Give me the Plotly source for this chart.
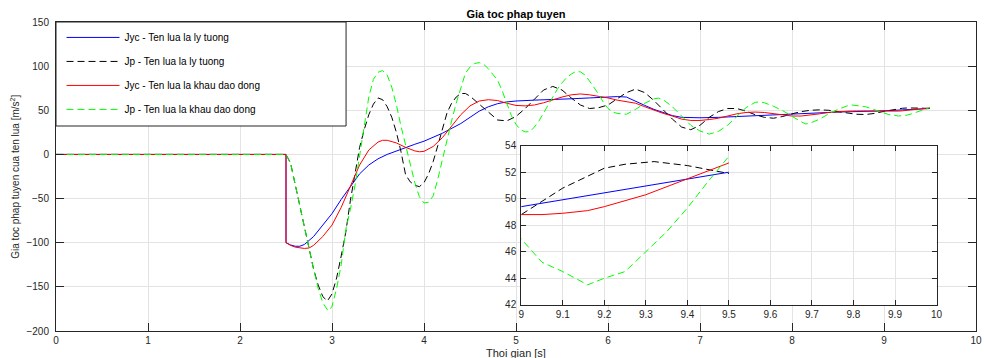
import plotly.graph_objects as go

# ---------------- data ----------------
t_jyc_ideal = [0, 2.5, 2.5, 2.55, 2.6, 2.65, 2.7, 2.8, 2.9, 3.0, 3.1, 3.2, 3.3, 3.4, 3.5, 3.6, 3.7,
               3.8, 3.9, 4.0, 4.2, 4.4, 4.5, 4.6, 4.7, 4.8, 4.9, 5.0, 5.2, 5.4, 5.6, 5.8, 6.0, 6.1,
               6.2, 6.3, 6.4, 6.5, 6.6, 6.7, 6.8, 6.9, 7.0, 7.2, 7.5, 7.8, 8.0, 8.5, 9.0, 9.5]
jyc_ideal = [0, 0, -100, -102.5, -104, -104, -102, -93, -80, -67, -51, -36, -22, -12, -5, 0, 4,
             8, 11.5, 15, 24, 35, 42, 49, 54, 57.5, 59.5, 60.5, 61.5, 62, 63, 64, 65, 65.5,
             65, 60, 55.5, 51, 47.5, 44, 42, 41.5, 41.5, 42, 43.5, 45, 46, 48, 49.4, 52.0]

t_jp_ideal = [0, 2.5, 2.55, 2.6, 2.65, 2.7, 2.75, 2.8, 2.85, 2.9, 2.95, 3.0, 3.05, 3.1, 3.15, 3.2,
              3.25, 3.3, 3.35, 3.4, 3.45, 3.5, 3.55, 3.6, 3.65, 3.7, 3.75, 3.8, 3.85, 3.9, 3.95,
              4.0, 4.05, 4.1, 4.15, 4.2, 4.25, 4.3, 4.35, 4.4, 4.45, 4.5, 4.6, 4.7, 4.8, 4.9,
              5.0, 5.1, 5.2, 5.3, 5.4, 5.5, 5.6, 5.7, 5.8, 5.9, 6.0, 6.1, 6.2, 6.3, 6.4, 6.5,
              6.6, 6.7, 6.8, 6.9, 7.0, 7.1, 7.2, 7.3, 7.4, 7.5, 7.6, 7.7, 7.8, 7.9, 8.0, 8.1,
              8.2, 8.3, 8.4, 8.5, 8.6, 8.7, 8.8, 8.9, 9.0, 9.1, 9.2, 9.25, 9.32, 9.4, 9.5]
jp_ideal = [0, 0, -10, -35, -58, -82, -106, -130, -148, -161, -166, -158, -140, -115, -88, -52,
            -22, 8, 28, 45, 57, 64, 62, 54, 42, 25, 3, -23, -31, -35, -36.5,
            -32, -22, -8, 10, 30, 47, 58, 65, 69, 69, 66, 57, 47, 39, 38,
            43, 52, 63, 73, 77, 73, 64, 56, 52, 53, 56, 63, 70, 74, 70, 61,
            50, 40, 31, 28, 33, 42, 48.5, 52, 52, 49, 45, 42, 41, 43, 46, 48.5,
            50, 50.5, 50, 48.5, 47, 45.5, 45.2, 46.5, 48.8, 50.8, 52.3, 52.6, 52.8, 52.5, 51.9]

t_jyc_osc = [0, 2.5, 2.5, 2.55, 2.6, 2.7, 2.75, 2.8, 2.9, 3.0, 3.1, 3.2, 3.3, 3.4, 3.5, 3.55, 3.6,
             3.7, 3.8, 3.9, 3.95, 4.0, 4.1, 4.2, 4.3, 4.4, 4.5, 4.6, 4.7, 4.8, 4.9, 5.0, 5.1,
             5.2, 5.3, 5.4, 5.5, 5.6, 5.7, 5.8, 5.9, 6.0, 6.1, 6.2, 6.3, 6.4, 6.5, 6.6, 6.7,
             6.8, 6.9, 7.0, 7.1, 7.2, 7.3, 7.4, 7.5, 7.6, 7.7, 7.8, 7.9, 8.0, 8.1, 8.2, 8.3,
             8.4, 8.5, 8.6, 8.7, 8.8, 8.9, 9.0, 9.05, 9.1, 9.16, 9.2, 9.3, 9.4, 9.5]
jyc_osc = [0, 0, -100, -103, -105, -106.5, -106, -103, -93, -80, -60, -35, -12, 5, 14, 16, 16,
           13, 8, 4, 3, 3.5, 9, 19, 32, 45, 55, 60.5, 62, 61, 58, 55.5, 55,
           56, 58.5, 62, 65, 67.5, 68.5, 67.5, 66, 64, 61.5, 60, 58, 54, 50, 46.5, 43.5,
           40, 38.5, 38.5, 39.5, 41, 43.5, 46, 47.5, 48, 47.5, 46, 44.5, 43.5, 43.5, 44.5, 46,
           47.5, 48.5, 49, 49.2, 49, 48.9, 48.8, 48.8, 48.9, 49.1, 49.4, 50.3, 51.5, 52.7]

t_jp_osc = [0, 2.5, 2.55, 2.6, 2.65, 2.7, 2.75, 2.8, 2.85, 2.9, 2.95, 2.97, 3.0, 3.05, 3.1, 3.15,
            3.2, 3.25, 3.3, 3.35, 3.4, 3.45, 3.5, 3.55, 3.6, 3.65, 3.7, 3.75, 3.8, 3.85, 3.9,
            3.95, 4.0, 4.05, 4.1, 4.15, 4.2, 4.25, 4.3, 4.35, 4.4, 4.45, 4.5, 4.55, 4.6, 4.65,
            4.7, 4.75, 4.8, 4.85, 4.9, 4.95, 5.0, 5.05, 5.1, 5.15, 5.2, 5.25, 5.3, 5.35, 5.4,
            5.45, 5.5, 5.55, 5.6, 5.65, 5.7, 5.75, 5.8, 5.85, 5.9, 5.95, 6.0, 6.05, 6.1, 6.2,
            6.3, 6.4, 6.5, 6.55, 6.6, 6.7, 6.8, 6.9, 7.0, 7.1, 7.2, 7.3, 7.4, 7.5, 7.6, 7.65,
            7.7, 7.8, 7.9, 8.0, 8.1, 8.15, 8.2, 8.3, 8.4, 8.5, 8.6, 8.65, 8.7, 8.8, 8.9, 9.0,
            9.05, 9.1, 9.16, 9.2, 9.25, 9.3, 9.35, 9.4, 9.45, 9.5]
jp_osc = [0, 0, -10, -35, -58, -82, -106, -130, -152, -168, -176, -177, -172, -152, -125, -85,
          -62, -35, -2, 30, 65, 85, 93, 95, 90, 76, 56, 32, 10, -10, -32,
          -48, -55, -54, -47, -28, -5, 17, 38, 58, 76, 92, 99, 103, 104, 102,
          97, 91, 84, 72, 58, 44, 34, 28, 25.5, 25.8, 31, 38, 47, 56, 65,
          74, 81, 87, 91, 94, 93.5, 90, 83, 76, 68, 59, 52, 48, 46.5, 45.5,
          51, 58, 63, 63.8, 62, 54, 43, 33, 26.5, 23, 26, 33, 43, 53, 59, 59.5,
          58.5, 54.5, 49.5, 43, 37, 34.5, 35.5, 40, 46, 51, 55, 56, 55.5, 54, 50.5, 47.0,
          45.2, 44.5, 43.5, 44.0, 44.5, 46.0, 47.5, 49.3, 51.3, 53.2]

names = ["Jyc - Ten lua la ly tuong", "Jp - Ten lua la ly tuong",
         "Jyc - Ten lua la khau dao dong", "Jp - Ten lua la khau dao dong"]

main_x_ticks = list(range(0, 11))
main_y_ticks = list(range(-200, 151, 50))
inset_x_ticks = [9, 9.1, 9.2, 9.3, 9.4, 9.5, 9.6, 9.7, 9.8, 9.9, 10]
inset_y_ticks = [42, 44, 46, 48, 50, 52, 54]

# ---------------- figure ----------------
FONT = "Liberation Sans, Arial, Helvetica, sans-serif"
AX = "#262626"
GRID = "#e3e3e3"

series = [
    (t_jyc_ideal, jyc_ideal, dict(color="#0000ff", width=1)),
    (t_jp_ideal, jp_ideal, dict(color="#000000", width=1, dash="7px,4px")),
    (t_jyc_osc, jyc_osc, dict(color="#ff0000", width=1)),
    (t_jp_osc, jp_osc, dict(color="#00ff00", width=1, dash="7px,4px")),
]

fig = go.Figure()
for i, (tx, vy, ln) in enumerate(series):
    fig.add_trace(go.Scatter(x=tx, y=vy, mode="lines", line=ln, name=names[i],
                             legendgroup=f"g{i}", showlegend=True,
                             xaxis="x", yaxis="y", hoverinfo="skip"))
for i, (tx, vy, ln) in enumerate(series):
    fig.add_trace(go.Scatter(x=tx, y=vy, mode="lines", line=ln, name=names[i],
                             showlegend=False, xaxis="x2", yaxis="y2", hoverinfo="skip"))

axis_common = dict(showline=True, linecolor=AX, linewidth=1, mirror="ticks",
                   ticks="inside", tickcolor=AX, showgrid=True, gridcolor=GRID,
                   gridwidth=1, zeroline=False,
                   tickfont=dict(family=FONT, size=10, color=AX))

fig.update_layout(
    width=984, height=358, autosize=False,
    margin=dict(l=56, r=2, t=22, b=27, pad=0),
    paper_bgcolor="white", plot_bgcolor="white",
    font=dict(family=FONT, size=10, color=AX),
    title=dict(text="<b>Gia toc phap tuyen</b>", x=0.5, xref="paper", xanchor="center",
               y=1 - 14 / 358, yref="container", yanchor="middle",
               font=dict(family=FONT, size=11, color="#000000")),
    xaxis=dict(range=[0, 10], tickvals=main_x_ticks, ticklen=8, domain=[0, 1],
               **axis_common),
    yaxis=dict(range=[-200, 150], tickvals=main_y_ticks, ticklen=8, domain=[0, 1],
               ticklabelstandoff=4, **axis_common),
    xaxis2=dict(range=[9, 10], tickvals=inset_x_ticks, ticklen=5, anchor="y2",
                domain=[0.5057, 0.9571], **axis_common),
    yaxis2=dict(range=[42, 54], tickvals=inset_y_ticks, ticklen=5, anchor="x2",
                domain=[0.0851, 0.5997], ticklabelstandoff=2, **axis_common),
    showlegend=True,
    legend=dict(x=0.006, y=0.997, xanchor="left", yanchor="top", bgcolor="rgba(0,0,0,0)",
                borderwidth=0, traceorder="grouped", tracegroupgap=5, itemwidth=53,
                font=dict(family=FONT, size=10, color="#000000")),
    shapes=[dict(type="rect", xref="paper", yref="paper", x0=0, x1=0.3153, y0=0.6634, y1=1,
                 line=dict(color=AX, width=1), fillcolor="white", layer="above")],
    annotations=[
        dict(text="Gia toc phap tuyen cua ten lua [m/s<sup>2</sup>]", xref="paper", yref="paper",
             x=-0.0454, y=0.5, xanchor="center", yanchor="middle", textangle=-90,
             showarrow=False, font=dict(family=FONT, size=10, color=AX)),
        dict(text="Thoi gian [s]", xref="paper", yref="paper", x=0.5, y=-0.0712,
             xanchor="center", yanchor="middle", showarrow=False,
             font=dict(family=FONT, size=11, color=AX)),
    ],
)

fig.write_html("out.html")
